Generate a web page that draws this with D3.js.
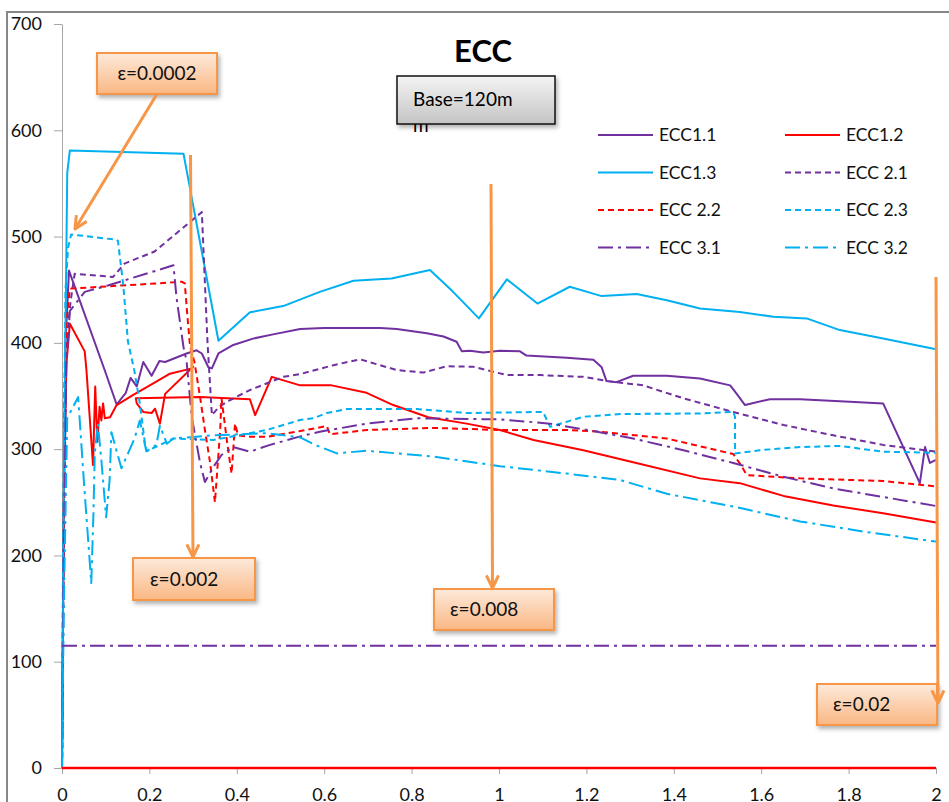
<!DOCTYPE html>
<html>
<head>
<meta charset="utf-8">
<script src="https://cdnjs.cloudflare.com/ajax/libs/d3/7.8.5/d3.min.js"></script>
<style>
body { margin: 0; background: #fff; }
svg { font-family: Lato, 'Liberation Sans', sans-serif; display: block; }
</style>
</head>
<body>
<div id="chart"></div>
<script>
var xTicks = [0, 0.2, 0.4, 0.6, 0.8, 1, 1.2, 1.4, 1.6, 1.8, 2];
var yTicks = [0, 100, 200, 300, 400, 500, 600, 700];

var ecc11 = [[0,0],[0.003,200],[0.008,400],[0.016,468],[0.098,374],[0.125,342],[0.146,353],[0.157,367],[0.171,359],
    [0.186,382],[0.205,369],[0.223,383],[0.236,382],[0.285,390],[0.308,393],[0.32,390],[0.335,377],[0.343,376],
    [0.358,390],[0.392,398],[0.437,404],[0.483,408],[0.545,413],[0.6,414],[0.697,414],[0.728,414],[0.766,413],
    [0.835,409],[0.873,406],[0.903,401],[0.915,392],[0.934,392.5],[0.964,391],[1.002,392.5],[1.048,392],
    [1.063,388],[1.155,386],[1.216,384],[1.235,377],[1.246,364],[1.269,363],[1.307,369],[1.384,369],[1.46,366.5],
    [1.529,360],[1.544,352],[1.563,341.5],[1.62,347],[1.689,347],[1.803,344.5],[1.879,343],[1.963,268],
    [1.975,302],[1.986,287],[2.0,290]];

var ecc12 = [[0,0],[0.004,250],[0.01,380],[0.018,418],[0.052,392],[0.056,374],[0.071,285],[0.076,359],[0.081,307],
    [0.086,340],[0.09,327],[0.094,343],[0.098,329],[0.11,330],[0.125,341.5],[0.163,351],[0.201,360],[0.247,371],
    [0.297,376],[0.30,377.5],[0.236,352],[0.224,324],[0.213,338],[0.205,334],[0.186,335],[0.171,343],[0.169,348],
    [0.316,349],[0.43,347],[0.442,332],[0.48,368],[0.545,360],[0.617,360],[0.697,353],[0.758,341.5],[0.838,330],
    [0.926,324],[1.002,318],[1.079,308.6],[1.193,299],[1.307,287.6],[1.46,272.5],[1.551,268],[1.651,256],
    [1.765,247],[1.879,239.6],[2.0,231]];

var ecc12Zero = [[0,0],[2,0]];

var ecc13 = [[0,0],[0.005,300],[0.012,560],[0.018,581],[0.278,578],[0.358,402],[0.43,428.7],[0.506,434.6],
    [0.59,448],[0.667,458.4],[0.754,460.6],[0.842,468.5],[0.895,448],[0.954,423],[1.018,459.7],[1.088,437],
    [1.162,452.8],[1.235,444],[1.315,446],[1.384,440],[1.46,432.4],[1.551,429],[1.628,424.6],[1.704,423],
    [1.78,412],[1.879,404],[2.0,394]];

var ecc21 = [[0,0],[0.004,200],[0.01,400],[0.02,440],[0.029,465],[0.117,462],[0.143,474.6],[0.212,486],
    [0.320,523],[0.333,400],[0.343,332],[0.36,340],[0.384,346],[0.43,355.6],[0.506,368],[0.545,370.6],[0.621,379],
    [0.682,384.5],[0.766,374.4],[0.827,372],[0.880,378],[0.941,377.5],[1.018,369.7],[1.094,369.7],[1.193,368],
    [1.25,364],[1.33,360],[1.422,347.8],[1.536,335],[1.651,322.7],[1.765,313],[1.879,304],[2.0,297.6]];

var ecc22 = [[0,0],[0.003,200],[0.006,360],[0.01,420],[0.018,451],[0.22,456],[0.274,457.5],[0.281,456],
    [0.287,425],[0.293,397],[0.303,382],[0.316,349],[0.327,318],[0.339,287],[0.35,250],[0.362,318],[0.365,348],
    [0.377,309],[0.388,277],[0.396,324],[0.403,313],[0.43,311.7],[0.472,311.7],[0.545,317],[0.606,321.7],
    [0.613,314],[0.697,318],[0.85,320],[1.002,318],[1.155,318],[1.231,316.4],[1.384,310],[1.536,295.4],
    [1.551,286.6],[1.567,275.6],[1.689,272.5],[1.879,270],[2.0,265]];

var ecc23 = [[0,0],[0.003,250],[0.008,450],[0.014,490],[0.021,502],[0.125,497],[0.128,496],[0.14,455],
    [0.151,401],[0.166,373],[0.178,343],[0.19,305],[0.194,298],[0.255,310],[0.346,308.6],[0.468,318],
    [0.545,327.4],[0.575,329],[0.606,334],[0.652,337.7],[0.812,337.7],[0.926,334],[1.101,335],[1.117,321],
    [1.193,330.5],[1.277,333],[1.46,333.6],[1.536,335],[1.540,330.5],[1.540,296],[1.597,299],[1.689,302],
    [1.78,303],[1.879,297.6],[2.0,296.6]];

var ecc31 = [[0,0],[0.004,200],[0.01,380],[0.018,430],[0.052,448],[0.105,454],[0.22,468.5],[0.255,473],
    [0.262,443],[0.278,396],[0.285,383],[0.297,330],[0.316,287],[0.327,269],[0.346,283],[0.365,294.5],
    [0.392,302],[0.43,297.6],[0.476,304],[0.545,312],[0.59,316.4],[0.697,324],[0.812,329],[1.002,328],
    [1.117,324],[1.216,317],[1.307,310],[1.422,299],[1.536,287],[1.651,274],[1.765,263],[1.879,255],[2.0,246.5]];

var ecc31Flat = [[0,115],[2,115]];

var ecc32 = [[0,0],[0.004,150],[0.012,330],[0.018,334],[0.037,349],[0.05,270],[0.067,174],[0.072,240],
    [0.075,296],[0.082,324],[0.09,290],[0.101,236],[0.109,271],[0.113,316],[0.136,282],[0.166,310],[0.178,327],
    [0.193,298],[0.216,304],[0.224,322],[0.24,305],[0.255,310],[0.346,313],[0.468,315],[0.545,311],[0.579,304],
    [0.629,296],[0.697,298.5],[0.85,293],[1.002,284],[1.155,277],[1.277,271],[1.384,258],[1.536,246],
    [1.689,232],[1.841,222],[2.0,213]];

var seriesNames = ['ECC1.1', 'ECC1.2', 'ECC1.3', 'ECC 2.1', 'ECC 2.2', 'ECC 2.3', 'ECC 3.1', 'ECC 3.2'];
var strainLabels = ['ε=0.0002', 'ε=0.002', 'ε=0.008', 'ε=0.02'];

var purple = '#7030a0';
var red = '#ff0000';
var cyan = '#00b0f0';
var orange = '#f79646';
var dashed = '6,4';
var dashDot = '15,5,3,5';

var series = [
    { name: seriesNames[0], data: ecc11, color: purple, dash: null },
    { name: seriesNames[1], data: ecc12, color: red, dash: null },
    { name: seriesNames[2], data: ecc13, color: cyan, dash: null },
    { name: seriesNames[3], data: ecc21, color: purple, dash: dashed },
    { name: seriesNames[4], data: ecc22, color: red, dash: dashed },
    { name: seriesNames[5], data: ecc23, color: cyan, dash: dashed },
    { name: seriesNames[6], data: ecc31, color: purple, dash: dashDot },
    { name: seriesNames[7], data: ecc32, color: cyan, dash: dashDot }
];

var width = 949;
var height = 802;

var svg = d3.select('#chart')
    .append('svg')
    .attr('width', width)
    .attr('height', height);

var defs = svg.append('defs');

var shadow = defs.append('filter')
    .attr('id', 'shadow')
    .attr('x', '-20%').attr('y', '-20%')
    .attr('width', '150%').attr('height', '160%');
shadow.append('feDropShadow')
    .attr('dx', 2).attr('dy', 3)
    .attr('stdDeviation', 2)
    .attr('flood-color', '#000')
    .attr('flood-opacity', 0.3);

var orangeGrad = defs.append('linearGradient')
    .attr('id', 'orangeGrad')
    .attr('x1', 0).attr('y1', 0).attr('x2', 0).attr('y2', 1);
orangeGrad.append('stop').attr('offset', '0%').attr('stop-color', '#fdeadb');
orangeGrad.append('stop').attr('offset', '100%').attr('stop-color', '#fab783');

var grayGrad = defs.append('linearGradient')
    .attr('id', 'grayGrad')
    .attr('x1', 0).attr('y1', 0).attr('x2', 0).attr('y2', 1);
grayGrad.append('stop').attr('offset', '0%').attr('stop-color', '#f4f4f4');
grayGrad.append('stop').attr('offset', '100%').attr('stop-color', '#c4c4c4');

// outer chart frame
svg.append('rect')
    .attr('x', 7)
    .attr('y', 12)
    .attr('width', 960)
    .attr('height', 820)
    .attr('fill', '#fff')
    .attr('stroke', '#878787')
    .attr('stroke-width', 2);

var x = d3.scaleLinear().domain([0, 2]).range([62, 936]);
var y = d3.scaleLinear().domain([0, 700]).range([768, 24]);

var yAxis = d3.axisLeft(y)
    .tickValues(yTicks)
    .tickSize(8)
    .tickSizeOuter(0)
    .tickPadding(12);

var xAxis = d3.axisBottom(x)
    .tickValues(xTicks)
    .tickSize(6)
    .tickSizeOuter(0)
    .tickPadding(14)
    .tickFormat(d3.format('~g'));

var gy = svg.append('g')
    .attr('transform', 'translate(' + x(0) + ',0)')
    .call(yAxis);

var gx = svg.append('g')
    .attr('transform', 'translate(0,' + y(0) + ')')
    .call(xAxis);

[gy, gx].forEach(function(g) {
    g.select('.domain').attr('stroke', '#a6a6a6');
    g.selectAll('.tick line').attr('stroke', '#a6a6a6');
    g.selectAll('.tick text')
        .attr('fill', '#111')
        .style('font-size', '18px')
        .style('font-family', 'Lato, sans-serif');
});

var line = d3.line()
    .x(function(d) { return x(d[0]); })
    .y(function(d) { return y(d[1]); });

svg.selectAll('path.series')
    .data(series)
    .enter()
    .append('path')
    .attr('class', 'series')
    .attr('d', function(d) { return line(d.data); })
    .attr('fill', 'none')
    .attr('stroke', function(d) { return d.color; })
    .attr('stroke-width', 2)
    .attr('stroke-linejoin', 'round')
    .attr('stroke-dasharray', function(d) { return d.dash; });

svg.append('path')
    .attr('d', line(ecc31Flat))
    .attr('fill', 'none')
    .attr('stroke', purple)
    .attr('stroke-width', 2)
    .attr('stroke-dasharray', dashDot);

svg.append('path')
    .attr('d', line(ecc12Zero))
    .attr('fill', 'none')
    .attr('stroke', red)
    .attr('stroke-width', 2.5);

// title and base note
svg.append('text')
    .attr('x', 483)
    .attr('y', 62)
    .attr('text-anchor', 'middle')
    .style('font-size', '31px')
    .style('font-weight', 'bold')
    .text('ECC');

svg.append('text')
    .attr('x', 413)
    .attr('y', 132)
    .style('font-size', '19px')
    .text('m');

svg.append('rect')
    .attr('x', 397)
    .attr('y', 76)
    .attr('width', 158)
    .attr('height', 48)
    .attr('fill', 'url(#grayGrad)')
    .attr('stroke', '#111')
    .attr('stroke-width', 1.5)
    .attr('filter', 'url(#shadow)');

svg.append('text')
    .attr('x', 413)
    .attr('y', 106)
    .style('font-size', '19px')
    .text('Base=120m');

// legend
var legend = svg.append('g');
series.forEach(function(s, i) {
    var col = i % 2;
    var row = Math.floor(i / 2);
    var lx = col === 0 ? 598 : 785;
    var ly = 135 + row * 37.5;
    legend.append('line')
        .attr('x1', lx)
        .attr('x2', lx + 55)
        .attr('y1', ly)
        .attr('y2', ly)
        .attr('stroke', s.color)
        .attr('stroke-width', 2)
        .attr('stroke-dasharray', s.dash);
    legend.append('text')
        .attr('x', lx + 61)
        .attr('y', ly)
        .attr('dy', '0.35em')
        .style('font-size', '17.5px')
        .attr('fill', '#111')
        .text(s.name);
});

// strain callouts
var callouts = [
    { label: strainLabels[0], box: [97, 53, 120, 41], tx: 157, anchor: 'middle', from: [157, 94], to: [75, 229] },
    { label: strainLabels[1], box: [133, 558, 122, 42], tx: 150, anchor: 'start', from: [190.5, 155], to: [193, 557] },
    { label: strainLabels[2], box: [434, 589, 120, 41], tx: 450, anchor: 'start', from: [491, 184], to: [492.5, 588] },
    { label: strainLabels[3], box: [817, 684, 120, 41], tx: 833, anchor: 'start', from: [936, 277], to: [938, 703] }
];

callouts.forEach(function(c) {
    var g = svg.append('g');
    g.append('rect')
        .attr('x', c.box[0])
        .attr('y', c.box[1])
        .attr('width', c.box[2])
        .attr('height', c.box[3])
        .attr('fill', 'url(#orangeGrad)')
        .attr('stroke', orange)
        .attr('stroke-width', 2)
        .attr('filter', 'url(#shadow)');
    g.append('text')
        .attr('x', c.tx)
        .attr('y', c.box[1] + c.box[3] / 2)
        .attr('dy', '0.36em')
        .attr('text-anchor', c.anchor)
        .style('font-size', '19px')
        .attr('fill', '#111')
        .text(c.label);
});

// arrows drawn over the boxes they start from
callouts.forEach(function(c) {
    var dx = c.to[0] - c.from[0];
    var dy = c.to[1] - c.from[1];
    var ang = Math.atan2(dy, dx);
    var len = 14;
    var spread = Math.PI / 7;
    var p1 = [c.to[0] - len * Math.cos(ang - spread), c.to[1] - len * Math.sin(ang - spread)];
    var p2 = [c.to[0] - len * Math.cos(ang + spread), c.to[1] - len * Math.sin(ang + spread)];
    svg.append('line')
        .attr('x1', c.from[0]).attr('y1', c.from[1])
        .attr('x2', c.to[0]).attr('y2', c.to[1])
        .attr('stroke', orange)
        .attr('stroke-width', 3);
    svg.append('path')
        .attr('d', 'M' + p1 + 'L' + c.to + 'L' + p2)
        .attr('fill', 'none')
        .attr('stroke', orange)
        .attr('stroke-width', 3)
        .attr('stroke-linejoin', 'round');
});
</script>
</body>
</html>
